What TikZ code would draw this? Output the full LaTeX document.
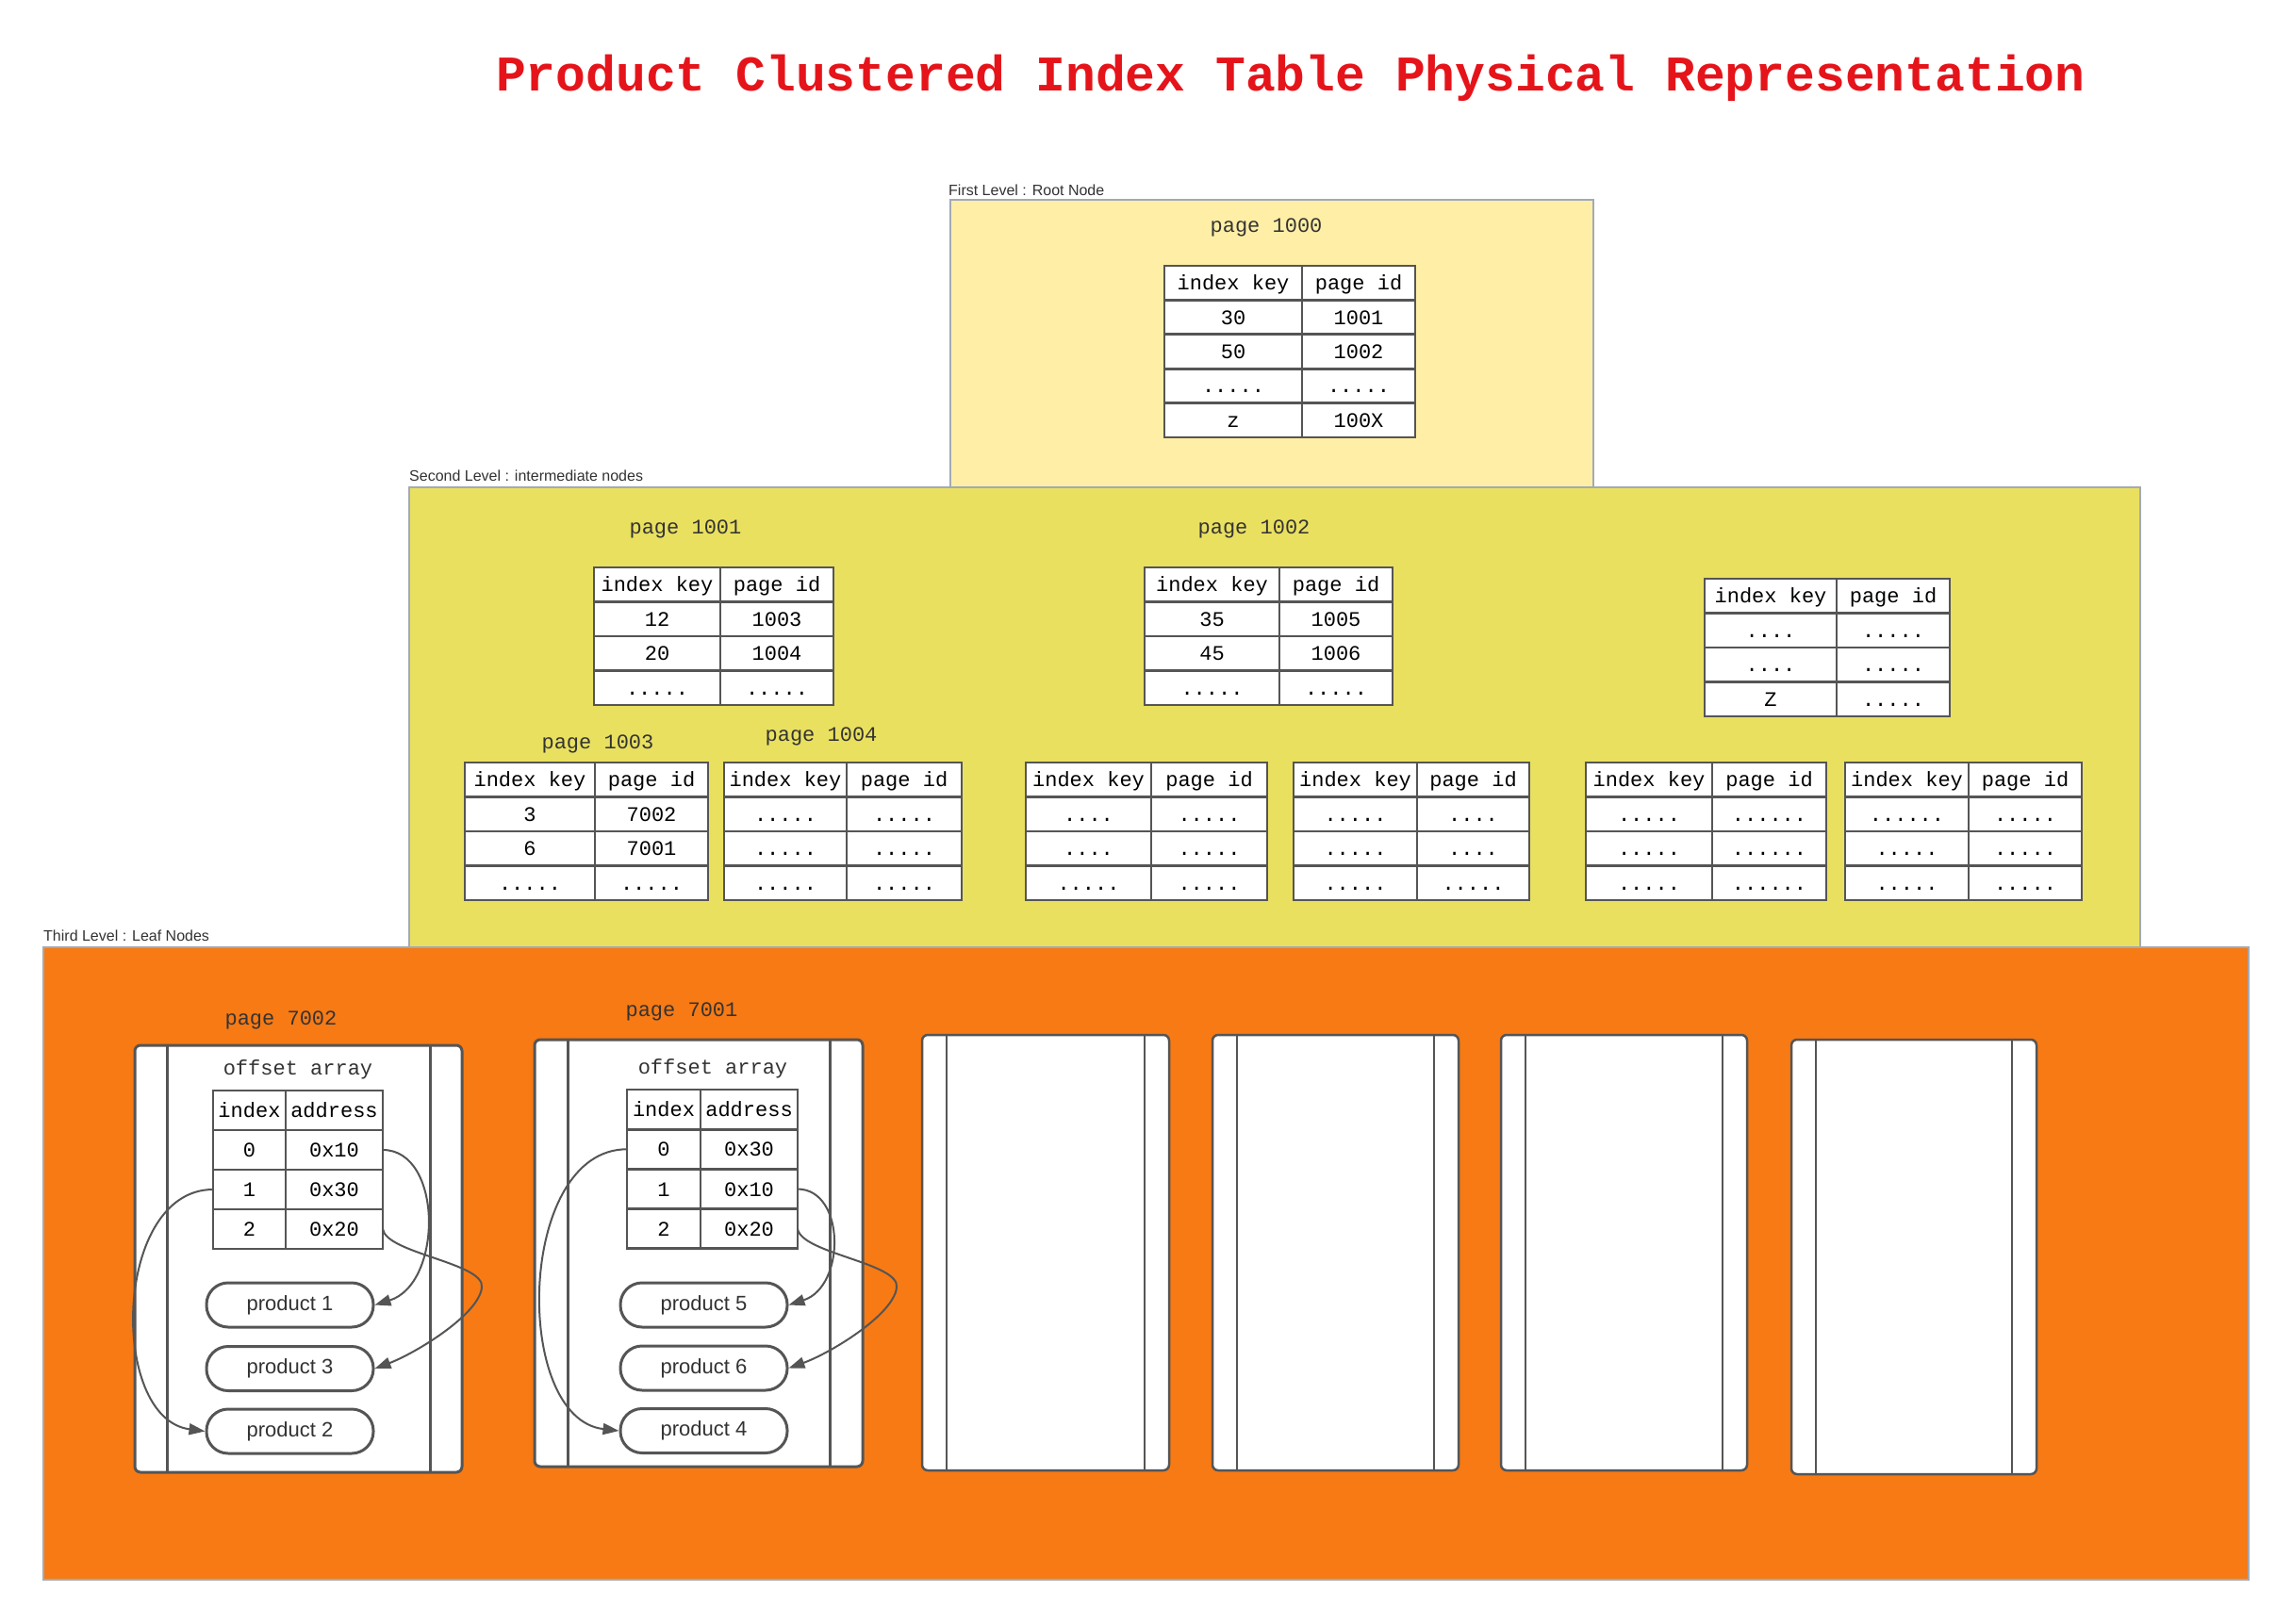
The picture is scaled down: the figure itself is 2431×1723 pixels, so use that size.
\documentclass[tikz,border=0pt]{standalone}
\usepackage{fontspec}
\setmainfont{Liberation Sans}
\setmonofont{Liberation Mono}
\usetikzlibrary{arrows.meta}
\definecolor{titlered}{HTML}{E5141A}
\definecolor{rootfill}{HTML}{FFEFA6}
\definecolor{midfill}{HTML}{E9E060}
\definecolor{leaffill}{HTML}{F77A14}
\definecolor{lvlborder}{HTML}{A3AAB5}
\definecolor{lineg}{HTML}{555555}
\definecolor{labelg}{HTML}{333333}
\newcommand\dfour{....}
\newcommand\dfive{.....}
\newcommand\dsix{......}
\tikzset{
 level/.style={draw=lvlborder, line width=1.5pt, inner sep=0, outer sep=0, anchor=north west},
 lvllabel/.style={font=\fontsize{16}{19}\selectfont, text=labelg, anchor=west, inner sep=0},
 pagelabel/.style={font=\ttfamily\fontsize{22}{26}\selectfont, text=labelg, inner sep=0, text height=15pt, text depth=0pt},
 cell/.style={draw=lineg, line width=2.7pt, fill=white, inner sep=0, outer sep=0, font=\ttfamily\fontsize{22}{26}\selectfont, text=black, text height=15pt, text depth=0pt},
 leaf/.style={draw=lineg, line width=3pt, fill=white, rounded corners=6pt, inner sep=0, outer sep=0, anchor=north west},
 leafline/.style={draw=lineg, line width=3pt},
 prod/.style={draw=lineg, line width=3pt, fill=white, rounded corners=23pt, minimum width=177pt, minimum height=47pt, inner sep=0, font=\fontsize{22}{26}\selectfont, text=labelg, text height=11pt, text depth=0pt},
 link/.style={draw=lineg, line width=2pt, -{Triangle[length=17pt,width=12pt]}},
}
% name, xleft, xcol, xright, ytop, row height, rows a/b
\newcommand\kvtable[7]{%
  \pgfmathsetmacro\kwa{#3-#2}\pgfmathsetmacro\kwb{#4-#3}%
  \foreach \ca/\cb [count=\i from 0] in {#7}{%
    \node[cell, minimum width=\kwa pt, minimum height=#6pt, anchor=north west] (#1-\i-a) at (#2,{#5+\i*#6}) {\ca};
    \node[cell, minimum width=\kwb pt, minimum height=#6pt, anchor=north west] (#1-\i-b) at (#3,{#5+\i*#6}) {\cb};
  }%
}
% name, x1, x2, y1, y2, inner offset, line width
\newcommand\leafpage[7]{%
  \pgfmathsetmacro\kwa{#3-#2}\pgfmathsetmacro\kwb{#5-#4}%
  \node[leaf, line width=#7, minimum width=\kwa pt, minimum height=\kwb pt] (#1) at (#2,#4) {};
  \draw[leafline, line width=#7] ([xshift=#6]#1.north west) -- ([xshift=#6]#1.south west);
  \draw[leafline, line width=#7] ([xshift=-#6]#1.north east) -- ([xshift=-#6]#1.south east);
}
\begin{document}
\begin{tikzpicture}[x=1pt,y=-1pt]
\useasboundingbox (0,0) rectangle (2431,1723);
\fill[white] (0,0) rectangle (2431,1723);
\node[font=\ttfamily\bfseries\fontsize{53}{60}\selectfont, text=titlered] (title) at (1369,83) {Product Clustered Index Table Physical Representation};

% level 1
\node[lvllabel] (lbl1) at (1006,202) {First Level : Root Node};
\node[level, fill=rootfill, minimum width=682pt, minimum height=305pt] (lvl1) at (1008,212) {};
\node[pagelabel] (pg1000) at (1343,239) {page 1000};
\kvtable{r}{1235}{1381}{1501}{282}{36.4}{index key/page id, 30/1001, 50/1002, \dfive/\dfive, z/100X}

% level 2
\node[lvllabel] (lbl2) at (434,505) {Second Level : intermediate nodes};
\node[level, fill=midfill, minimum width=1836pt, minimum height=488pt] (lvl2) at (434,517) {};
\node[pagelabel] (pg1001) at (727,559) {page 1001};
\kvtable{t1001}{630}{764}{884}{602}{36.5}{index key/page id, 12/1003, 20/1004, \dfive/\dfive}
\node[pagelabel] (pg1002) at (1330,559) {page 1002};
\kvtable{t1002}{1214}{1357}{1477}{602}{36.5}{index key/page id, 35/1005, 45/1006, \dfive/\dfive}
\kvtable{t100x}{1808}{1948}{2068}{614}{36.5}{index key/page id, \dfour/\dfive, \dfour/\dfive, Z/\dfive}
\node[pagelabel] (pg1003) at (634,787) {page 1003};
\kvtable{t1003}{493}{631}{751}{809}{36.5}{index key/page id, 3/7002, 6/7001, \dfive/\dfive}
\node[pagelabel] (pg1004) at (871,779) {page 1004};
\kvtable{t1004}{768}{898}{1020}{809}{36.5}{index key/page id, \dfive/\dfive, \dfive/\dfive, \dfive/\dfive}
\kvtable{t5}{1088}{1221}{1344}{809}{36.5}{index key/page id, \dfour/\dfive, \dfour/\dfive, \dfive/\dfive}
\kvtable{t6}{1372}{1503}{1622}{809}{36.5}{index key/page id, \dfive/\dfour, \dfive/\dfour, \dfive/\dfive}
\kvtable{t7}{1682}{1816}{1937}{809}{36.5}{index key/page id, \dfive/\dsix, \dfive/\dsix, \dfive/\dsix}
\kvtable{t8}{1957}{2088}{2208}{809}{36.5}{index key/page id, \dsix/\dfive, \dfive/\dfive, \dfive/\dfive}

% level 3
\node[lvllabel] (lbl3) at (46,993) {Third Level : Leaf Nodes};
\node[level, fill=leaffill, minimum width=2339pt, minimum height=671pt] (lvl3) at (46,1005) {};

% page 7002
\node[pagelabel] (pg7002) at (298,1080) {page 7002};
\leafpage{l7002}{143}{490}{1109}{1562}{34pt}{3pt}
\node[pagelabel] (oa7002) at (316,1133) {offset array};
\kvtable{o7002}{226}{303}{406}{1157}{42}{index/address, 0/0x10, 1/0x30, 2/0x20}
\node[prod] (prod1) at (307.5,1384.5) {product 1};
\node[prod] (prod3) at (307.5,1452) {product 3};
\node[prod] (prod2) at (307.5,1518.5) {product 2};
\draw[link] (o7002-1-b.east) .. controls (470,1220) and (470,1362) .. (prod1.east);
\draw[link] (o7002-3-b.east) .. controls (410,1330) and (515,1340) .. (511,1366) .. controls (508,1395) and (440,1436) .. (prod3.east);
\draw[link] (o7002-2-a.west) .. controls (120,1262) and (115,1505) .. (prod2.west);

% page 7001
\node[pagelabel] (pg7001) at (723,1071) {page 7001};
\leafpage{l7001}{567}{915}{1103}{1556}{35pt}{3pt}
\node[pagelabel] (oa7001) at (756,1132) {offset array};
\kvtable{o7001}{665}{743}{846}{1156}{42.2}{index/address, 0/0x30, 1/0x10, 2/0x20}
\node[prod] (prod5) at (746.5,1384.5) {product 5};
\node[prod] (prod6) at (746.5,1451.5) {product 6};
\node[prod] (prod4) at (746.5,1518) {product 4};
\draw[link] (o7001-2-b.east) .. controls (897,1262) and (897,1365) .. (prod5.east);
\draw[link] (o7001-3-b.east) .. controls (850,1330) and (955,1340) .. (951,1366) .. controls (948,1395) and (880,1436) .. (prod6.east);
\draw[link] (o7001-1-a.west) .. controls (548,1219) and (543,1505) .. (prod4.west);

% empty leaf pages
\leafpage{l3}{978}{1240}{1098}{1560}{26pt}{2.5pt}
\leafpage{l4}{1286}{1547}{1098}{1560}{26pt}{2.5pt}
\leafpage{l5}{1592}{1853}{1098}{1560}{26pt}{2.5pt}
\leafpage{l6}{1900}{2160}{1103}{1564}{26pt}{2.5pt}
\end{tikzpicture}
\end{document}
